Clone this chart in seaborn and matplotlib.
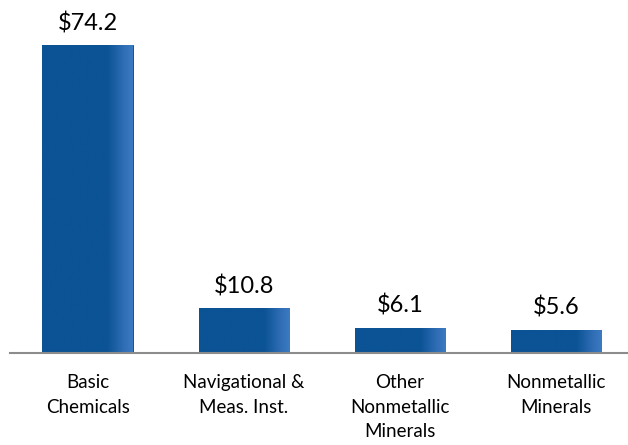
import numpy as np
import pandas as pd
import seaborn as sns
import matplotlib.pyplot as plt
from matplotlib.colors import LinearSegmentedColormap

categories = ["Basic\nChemicals", "Navigational &\nMeas. Inst.",
              "Other\nNonmetallic\nMinerals", "Nonmetallic\nMinerals"]
values = [74.2, 10.8, 6.1, 5.6]

df = pd.DataFrame({"cat": categories, "val": values})

sns.set_theme(style="white")
plt.rcParams['font.family'] = ['Lato', 'DejaVu Sans']

fig = plt.figure(figsize=(6.28, 4.45), dpi=100)
ax = fig.add_axes([10 / 628, 92 / 445, 618 / 628, 353 / 445])

sns.barplot(data=df, x="cat", y="val", color="#0B5394", width=0.58,
            saturation=1, ax=ax, edgecolor="#3a3a3a", linewidth=0.6)

# gradient on right side of each bar
cmap = LinearSegmentedColormap.from_list(
    "g", [(0, "#0B5394"), (0.72, "#0B5394"), (0.9, "#2F6DB5"), (1, "#3C7AC2")])
grad = np.linspace(0, 1, 256).reshape(1, -1)
for p in ax.patches:
    x0, y0 = p.get_x(), p.get_y()
    w, h = p.get_width(), p.get_height()
    im = ax.imshow(grad, cmap=cmap, aspect="auto",
                   extent=[x0, x0 + w, y0, y0 + h], zorder=p.get_zorder())
    im.set_clip_path(p)

for i, v in enumerate(values):
    ax.text(i, v + 2.6, f"${v}", ha="center", va="bottom", fontsize=17, color="black")

ax.set_xlim(-0.497, 3.46)
ax.set_ylim(0, 85.04)
ax.set_xlabel("")
ax.set_ylabel("")
ax.set_yticks([])
ax.set_xticks(range(len(categories)))
ax.set_xticklabels(categories, fontsize=13.5, color="black", va="top", linespacing=1.55)
ax.tick_params(axis="x", length=0, pad=15)
for s in ["top", "right", "left"]:
    ax.spines[s].set_visible(False)
ax.spines["bottom"].set_color("#8c8c8c")
ax.spines["bottom"].set_linewidth(1.5)

fig.savefig("out.png", dpi=100)
